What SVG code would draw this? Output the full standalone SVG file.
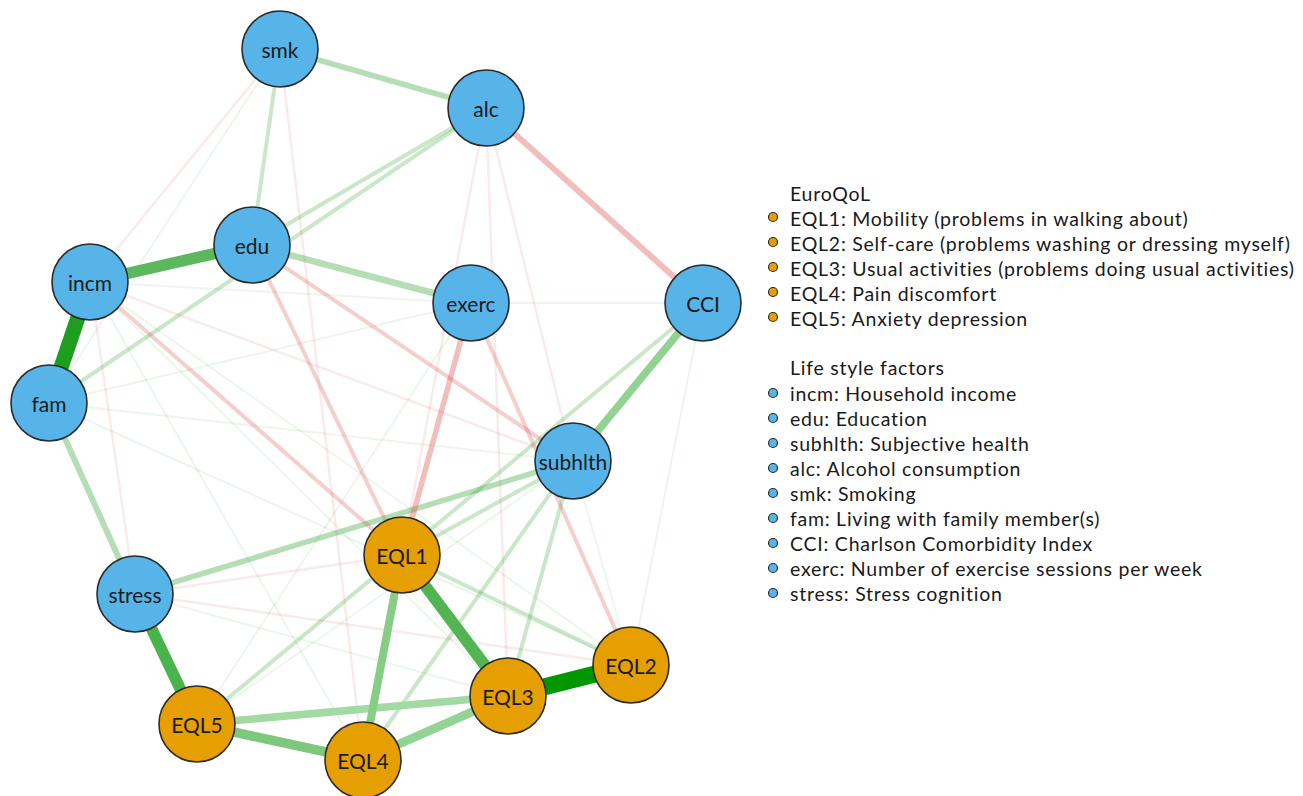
<svg xmlns="http://www.w3.org/2000/svg" width="1303" height="796" viewBox="0 0 1303 796">
<style>
  text { font-family: Lato, "Open Sans", "Liberation Sans", sans-serif; fill: #1a1a1a; }
  .nl { font-size: 21px; text-anchor: middle; dominant-baseline: central; }
  .lg { font-size: 19.5px; letter-spacing: 0.75px; }
  .nb circle { fill: #56b4e9; stroke: #2b2b2b; stroke-width: 1.6; }
  .no circle { fill: #e69f00; stroke: #2b2b2b; stroke-width: 1.6; }
  .db { fill: #56b4e9; stroke: #2b2b2b; stroke-width: 1.2; }
  .do { fill: #e69f00; stroke: #2b2b2b; stroke-width: 1.2; }
  #edges line { stroke-linecap: butt; }
  .gf { stroke: #2ca02c; stroke-opacity: 0.09; stroke-width: 2; }
  .gl { stroke: #2ca02c; stroke-opacity: 0.25; stroke-width: 4; }
  .gm { stroke: #2ca02c; stroke-opacity: 0.35; stroke-width: 5.5; }
  .rf { stroke: #d9534f; stroke-opacity: 0.12; stroke-width: 2.5; }
  .rl { stroke: #d9534f; stroke-opacity: 0.28; stroke-width: 4; }
  .rm { stroke: #d9534f; stroke-opacity: 0.38; stroke-width: 6; }
</style>
<rect width="1303" height="796" fill="#ffffff"/>
<g id="edges">
  <line class="gf" x1="280" y1="49" x2="49" y2="403"/>
  <line class="rf" x1="280" y1="49" x2="90" y2="282"/>
  <line class="rf" x1="280" y1="49" x2="363" y2="760"/>
  <line class="gf" x1="90" y1="282" x2="471" y2="303"/>
  <line class="gf" x1="471" y1="303" x2="703" y2="303"/>
  <line class="gf" x1="49" y1="403" x2="471" y2="303"/>
  <line class="gf" x1="49" y1="403" x2="573" y2="461"/>
  <line class="gf" x1="49" y1="403" x2="631" y2="665"/>
  <line class="gf" x1="90" y1="282" x2="631" y2="665"/>
  <line class="gf" x1="90" y1="282" x2="508" y2="696"/>
  <line class="gf" x1="90" y1="282" x2="363" y2="760"/>
  <line class="rf" x1="90" y1="282" x2="135" y2="594"/>
  <line class="rf" x1="90" y1="282" x2="573" y2="461"/>
  <line class="rf" x1="486" y1="108" x2="402" y2="555"/>
  <line class="rf" x1="486" y1="108" x2="508" y2="696"/>
  <line class="rf" x1="486" y1="108" x2="573" y2="461"/>
  <line class="rf" x1="135" y1="594" x2="402" y2="555"/>
  <line class="rf" x1="135" y1="594" x2="631" y2="665"/>
  <line class="gf" x1="471" y1="303" x2="197" y2="724"/>
  <line class="gf" x1="573" y1="461" x2="197" y2="724"/>
  <line class="gf" x1="703" y1="303" x2="631" y2="665"/>
  <line class="gf" x1="573" y1="461" x2="631" y2="665"/>
  <line class="gf" x1="135" y1="594" x2="508" y2="696"/>
  <line class="gl" x1="280" y1="49" x2="252" y2="245"/>
  <line class="gl" x1="486" y1="108" x2="252" y2="245"/>
  <line class="gl" x1="486" y1="108" x2="49" y2="403"/>
  <line class="gl" x1="703" y1="303" x2="197" y2="724"/>
  <line class="gl" x1="573" y1="461" x2="363" y2="760"/>
  <line class="gl" x1="573" y1="461" x2="508" y2="696"/>
  <line class="gl" x1="402" y1="555" x2="631" y2="665"/>
  <line class="gl" x1="573" y1="461" x2="402" y2="555"/>
  <line class="rl" x1="252" y1="245" x2="402" y2="555"/>
  <line class="rl" x1="90" y1="282" x2="402" y2="555"/>
  <line class="rl" x1="252" y1="245" x2="573" y2="461"/>
  <line class="rl" x1="471" y1="303" x2="631" y2="665"/>
  <line class="gm" x1="280" y1="49" x2="486" y2="108"/>
  <line class="gm" x1="252" y1="245" x2="471" y2="303" style="stroke-width:6.5"/>
  <line class="gm" x1="49" y1="403" x2="135" y2="594" style="stroke-width:6"/>
  <line class="gm" x1="135" y1="594" x2="573" y2="461"/>
  <line class="rm" x1="486" y1="108" x2="703" y2="303"/>
  <line class="rm" x1="471" y1="303" x2="402" y2="555" style="stroke-width:5.5"/>
  <line x1="703" y1="303" x2="573" y2="461" stroke="#92d392" stroke-width="7.5"/>
  <line x1="197" y1="724" x2="508" y2="696" stroke="#a3daa3" stroke-width="7.5"/>
  <line x1="363" y1="760" x2="508" y2="696" stroke="#93d393" stroke-width="8.5"/>
  <line x1="402" y1="555" x2="363" y2="760" stroke="#86cd86" stroke-width="8"/>
  <line x1="197" y1="724" x2="363" y2="760" stroke="#7cc97c" stroke-width="9.5"/>
  <line x1="402" y1="555" x2="508" y2="696" stroke="#52b552" stroke-width="11.5"/>
  <line x1="135" y1="594" x2="197" y2="724" stroke="#4bb34b" stroke-width="11.5"/>
  <line x1="90" y1="282" x2="252" y2="245" stroke="#5cb85c" stroke-width="11.5"/>
  <line x1="90" y1="282" x2="49" y2="403" stroke="#1e9e1e" stroke-width="15"/>
  <line x1="508" y1="696" x2="631" y2="665" stroke="#009600" stroke-width="17"/>
</g>
<g id="node-smk" class="nb"><circle cx="280" cy="49" r="38"/><text class="nl" x="280" y="49">smk</text></g>
<g id="node-alc" class="nb"><circle cx="486" cy="108" r="38"/><text class="nl" x="486" y="108">alc</text></g>
<g id="node-edu" class="nb"><circle cx="252" cy="245" r="38"/><text class="nl" x="252" y="245">edu</text></g>
<g id="node-incm" class="nb"><circle cx="90" cy="282" r="38"/><text class="nl" x="90" y="282">incm</text></g>
<g id="node-exerc" class="nb"><circle cx="471" cy="303" r="38"/><text class="nl" x="471" y="303">exerc</text></g>
<g id="node-CCI" class="nb"><circle cx="703" cy="303" r="38"/><text class="nl" x="703" y="303">CCI</text></g>
<g id="node-fam" class="nb"><circle cx="49" cy="403" r="38"/><text class="nl" x="49" y="403">fam</text></g>
<g id="node-subhlth" class="nb"><circle cx="573" cy="461" r="38"/><text class="nl" x="573" y="461">subhlth</text></g>
<g id="node-stress" class="nb"><circle cx="135" cy="594" r="38"/><text class="nl" x="135" y="594">stress</text></g>
<g id="node-EQL1" class="no"><circle cx="402" cy="555" r="38"/><text class="nl" x="402" y="555">EQL1</text></g>
<g id="node-EQL2" class="no"><circle cx="631" cy="665" r="38"/><text class="nl" x="631" y="665">EQL2</text></g>
<g id="node-EQL3" class="no"><circle cx="508" cy="696" r="38"/><text class="nl" x="508" y="696">EQL3</text></g>
<g id="node-EQL5" class="no"><circle cx="197" cy="724" r="38"/><text class="nl" x="197" y="724">EQL5</text></g>
<g id="node-EQL4" class="no"><circle cx="363" cy="760" r="38"/><text class="nl" x="363" y="760">EQL4</text></g>
<g id="legend">
  <text class="lg" x="790" y="200.5">EuroQoL</text>
  <circle class="do" cx="773" cy="217" r="4.5"/><text class="lg" x="790" y="225.5">EQL1: Mobility (problems in walking about)</text>
  <circle class="do" cx="773" cy="242" r="4.5"/><text class="lg" x="790" y="250.5">EQL2: Self-care (problems washing or dressing myself)</text>
  <circle class="do" cx="773" cy="267" r="4.5"/><text class="lg" x="790" y="275.5">EQL3: Usual activities (problems doing usual activities)</text>
  <circle class="do" cx="773" cy="292" r="4.5"/><text class="lg" x="790" y="300.5">EQL4: Pain discomfort</text>
  <circle class="do" cx="773" cy="317" r="4.5"/><text class="lg" x="790" y="325.5">EQL5: Anxiety depression</text>
  <text class="lg" x="790" y="374.5">Life style factors</text>
  <circle class="db" cx="773" cy="393" r="4.5"/><text class="lg" x="790" y="401">incm: Household income</text>
  <circle class="db" cx="773" cy="418" r="4.5"/><text class="lg" x="790" y="426">edu: Education</text>
  <circle class="db" cx="773" cy="443" r="4.5"/><text class="lg" x="790" y="451">subhlth: Subjective health</text>
  <circle class="db" cx="773" cy="468" r="4.5"/><text class="lg" x="790" y="476">alc: Alcohol consumption</text>
  <circle class="db" cx="773" cy="493" r="4.5"/><text class="lg" x="790" y="501">smk: Smoking</text>
  <circle class="db" cx="773" cy="518" r="4.5"/><text class="lg" x="790" y="526">fam: Living with family member(s)</text>
  <circle class="db" cx="773" cy="543" r="4.5"/><text class="lg" x="790" y="551">CCI: Charlson Comorbidity Index</text>
  <circle class="db" cx="773" cy="568" r="4.5"/><text class="lg" x="790" y="576">exerc: Number of exercise sessions per week</text>
  <circle class="db" cx="773" cy="593" r="4.5"/><text class="lg" x="790" y="601">stress: Stress cognition</text>
</g>
</svg>
